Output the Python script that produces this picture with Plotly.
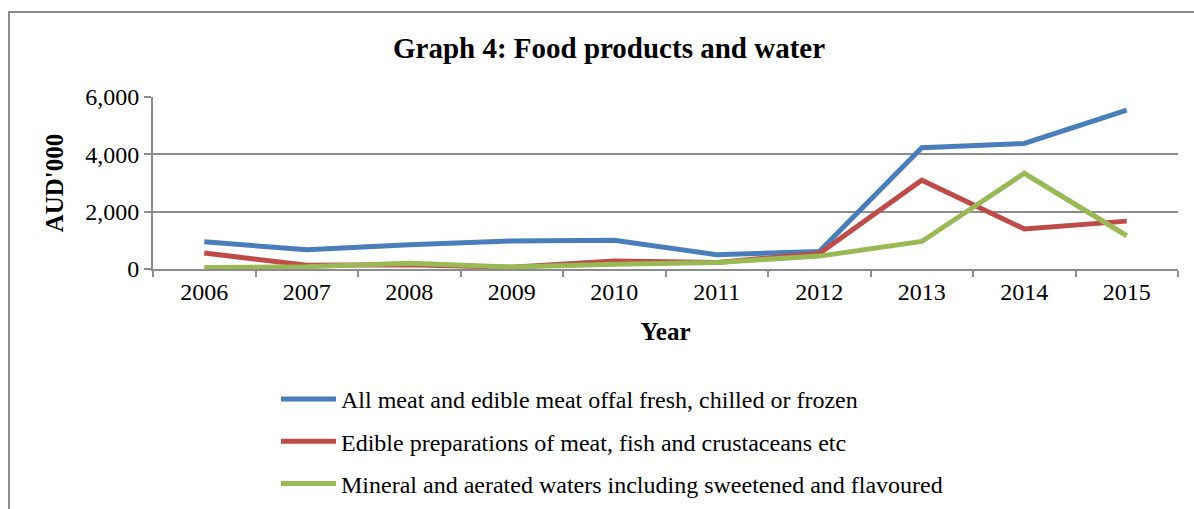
import plotly.graph_objects as go

years = ["2006", "2007", "2008", "2009", "2010", "2011", "2012", "2013", "2014", "2015"]
meat = [950, 670, 850, 980, 1000, 500, 610, 4230, 4380, 5540]
preparations = [560, 130, 150, 60, 280, 230, 540, 3100, 1400, 1670]
waters = [50, 80, 200, 70, 170, 230, 450, 960, 3340, 1160]

names = [
    "All meat and edible meat offal fresh, chilled or frozen",
    "Edible preparations of meat, fish and crustaceans etc",
    "Mineral and aerated waters including sweetened and flavoured",
]
colors = ["#4A7EBB", "#BE4B48", "#98B954"]

fig = go.Figure()
for i, (vals, nm, c) in enumerate(zip([meat, preparations, waters], names, colors)):
    fig.add_trace(go.Scatter(x=years, y=vals, mode="lines", name=nm,
                             line=dict(color=c, width=5), legendgroup=f"g{i}"))

font_fam = "Liberation Serif, Times New Roman, serif"
W, H = 1194, 509
L, R, T, B = 153, 1178, 97, 269
pw, ph = R - L, B - T

def px(x):
    return (x - L) / pw

def py(y):
    return (B - y) / ph

fig.update_layout(
    width=W, height=H,
    margin=dict(l=L, r=W - R, t=T, b=H - B, pad=0, autoexpand=False),
    paper_bgcolor="white", plot_bgcolor="white",
    font=dict(family=font_fam, size=24, color="black"),
    title=dict(text="<b>Graph 4: Food products and water</b>", x=px(609), xref="paper",
               xanchor="center", y=1 - 48 / H, yanchor="middle",
               font=dict(size=29, family=font_fam), automargin=False),
    showlegend=True,
    legend=dict(x=px(276), xanchor="left", y=py(377), yanchor="top",
                orientation="v", font=dict(size=24, family=font_fam),
                tracegroupgap=8, itemwidth=55, bgcolor="rgba(0,0,0,0)"),
    shapes=[dict(type="rect", xref="paper", yref="paper",
                 x0=px(9), x1=px(1300), y0=py(12), y1=py(700),
                 line=dict(color="#8C8C8C", width=2), layer="below")],
)
fig.update_xaxes(
    type="category", range=[-0.5, 9.5], showgrid=False, automargin=False,
    showline=True, linecolor="#8C8C8C", linewidth=2,
    ticks="outside", tickson="boundaries", ticklen=6, tickcolor="#8C8C8C", tickwidth=2,
    tickfont=dict(size=24, family=font_fam),
    title=dict(text="<b>Year</b>", font=dict(size=25, family=font_fam), standoff=19),
)
fig.update_yaxes(
    range=[0, 6000], tickvals=[0, 2000, 4000, 6000], tickformat=",d", automargin=False,
    showgrid=True, gridcolor="#8C8C8C", gridwidth=2,
    showline=True, linecolor="#8C8C8C", linewidth=2,
    ticks="outside", ticklen=7, tickcolor="#8C8C8C", tickwidth=2,
    tickfont=dict(size=24, family=font_fam),
    title=dict(text="<b>AUD'000</b>", font=dict(size=25, family=font_fam), standoff=14),
    zeroline=False,
)
fig.write_html("out.html", config={"displayModeBar": False},
               post_script="document.body.style.margin='0';")
